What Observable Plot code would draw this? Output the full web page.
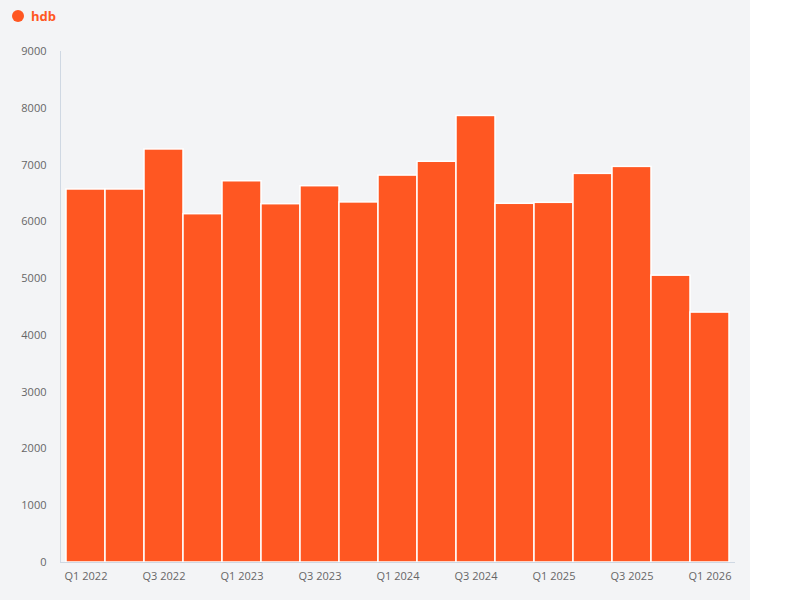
<!DOCTYPE html>
<html>
<head>
<meta charset="utf-8">
<script src="https://cdn.jsdelivr.net/npm/d3@7"></script>
<script src="https://cdn.jsdelivr.net/npm/@observablehq/plot@0.6"></script>
<style>
  body { margin: 0; background: #ffffff; font-family: "Open Sans", sans-serif; }
  #wrap { width: 750px; height: 600px; background: #f3f4f6; position: relative; }
  #legend { height: 30px; display: flex; align-items: center; padding-left: 12px; padding-top: 2px; box-sizing: border-box; }
  #legend .dot { width: 12px; height: 12px; border-radius: 50%; background: #ff5722; margin-right: 7px; }
  #legend .lab { color: #ff5722; font-weight: 700; font-size: 13px; }
</style>
</head>
<body>
<div id="wrap">
  <div id="legend"><span class="dot"></span><span class="lab">hdb</span></div>
  <div id="chart"></div>
</div>
<script>
const quarters = ["Q1 2022","Q2 2022","Q3 2022","Q4 2022","Q1 2023","Q2 2023","Q3 2023","Q4 2023","Q1 2024","Q2 2024","Q3 2024","Q4 2024","Q1 2025","Q2 2025","Q3 2025","Q4 2025","Q1 2026"];
const hdb = [6570, 6570, 7275, 6135, 6715, 6311, 6628, 6342, 6815, 7058, 7865, 6318, 6335, 6845, 6968, 5052, 4402];
const yTicks = [0,1000,2000,3000,4000,5000,6000,7000,8000,9000];
const xTicks = quarters.filter((d, i) => i % 2 === 0);

const data = quarters.map((q, i) => ({quarter: q, value: hdb[i]}));

const chart = Plot.plot({
  width: 750,
  height: 570,
  marginTop: 21,
  marginBottom: 38,
  marginLeft: 60,
  marginRight: 16,
  style: {background: "transparent", fontFamily: "Open Sans, sans-serif", fontSize: "11px", color: "#666666"},
  x: {domain: quarters, paddingInner: 0, paddingOuter: 0.13, label: null},
  y: {domain: [0, 9000], label: null},
  marks: [
    Plot.barY(data, {x: "quarter", y: "value", fill: "#ff5722", stroke: "#ffffff", strokeWidth: 1.5, inset: 0}),
    Plot.frame({anchor: "left", stroke: "#cfd8e3"}),
    Plot.frame({anchor: "bottom", stroke: "#cfd8e3"}),
    Plot.axisY({ticks: yTicks, tickFormat: d3.format("d"), tickSize: 0, tickPadding: 14, fill: "#666666", label: null}),
    Plot.axisX({ticks: xTicks, tickSize: 0, tickPadding: 10, fill: "#666666", label: null})
  ]
});
document.getElementById("chart").appendChild(chart);
</script>
</body>
</html>
